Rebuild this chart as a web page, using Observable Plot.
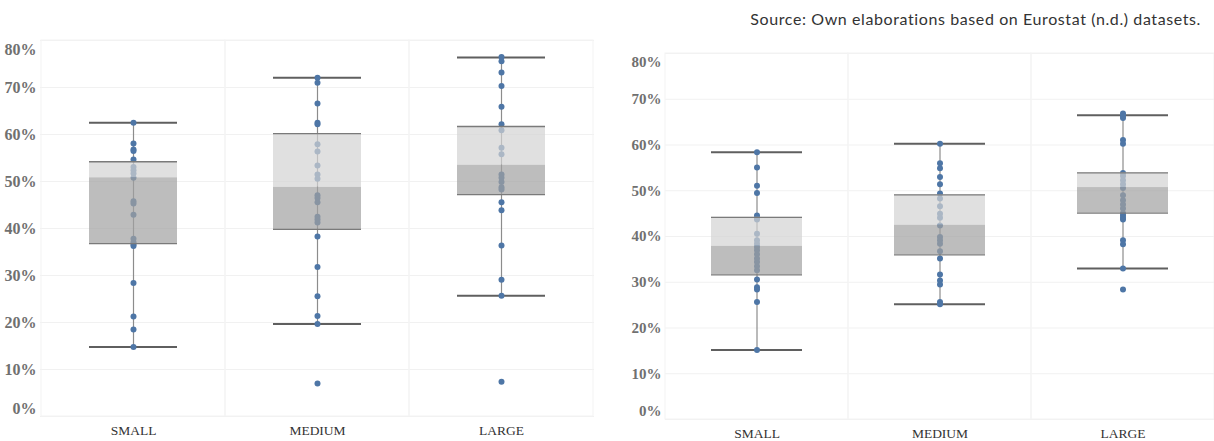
<!DOCTYPE html>
<html>
<head>
<meta charset="utf-8">
<script src="https://cdn.jsdelivr.net/npm/d3@7"></script>
<script src="https://cdn.jsdelivr.net/npm/@observablehq/plot@0.6"></script>
<style>
  html, body { margin: 0; padding: 0; background: #fff; }
  #wrap { position: relative; width: 1214px; height: 441px; overflow: hidden; background: #fff; }
  #source { position: absolute; top: 9px; right: 13px; z-index: 5; font-family: Lato, sans-serif; font-size: 16px; letter-spacing: 0.6px; line-height: 20px; color: #333; white-space: nowrap; }
  #left { position: absolute; left: 0; top: 0; z-index: 1; }
  #right { position: absolute; left: 600px; top: 0; z-index: 1; }
</style>
</head>
<body>
<div id="wrap">
  <div id="left"></div>
  <div id="right"></div>
  <div id="source">Source: Own elaborations based on Eurostat (n.d.) datasets.</div>
</div>
<script>
const categories = ["SMALL", "MEDIUM", "LARGE"];
const yTicks = [0, 10, 20, 30, 40, 50, 60, 70, 80];

// Left panel – observed values (%)
const leftSmall  = [62.5, 58.1, 56.8, 56.5, 54.7, 53.1, 52.4, 51.7, 50.8, 45.8, 45.3, 42.9, 37.8, 37.1, 36.6, 36.3, 28.4, 21.3, 18.5, 14.8];
const leftMedium = [72.1, 71.0, 66.6, 62.5, 62.2, 57.9, 56.4, 53.4, 51.5, 50.6, 47.1, 46.5, 45.6, 42.5, 41.9, 41.3, 38.3, 31.8, 25.6, 21.4, 19.7, 7.0];
const leftLarge  = [76.5, 75.6, 73.2, 70.3, 65.9, 62.2, 60.9, 57.2, 55.8, 51.5, 50.8, 49.9, 48.8, 48.3, 45.6, 43.9, 36.4, 29.1, 25.7, 7.4];
// Left panel – box statistics per category
const leftWhiskerLow  = [14.8, 19.7, 25.7];
const leftQ1          = [36.8, 39.8, 47.2];
const leftMedian      = [50.8, 48.8, 53.5];
const leftQ3          = [54.2, 60.2, 61.7];
const leftWhiskerHigh = [62.5, 72.1, 76.4];

// Right panel – observed values (%)
const rightSmall  = [58.4, 55.1, 51.1, 49.5, 44.6, 44.1, 43.7, 40.6, 39.2, 38.4, 37.7, 37.0, 36.1, 35.2, 34.4, 33.5, 32.6, 30.6, 28.9, 28.4, 25.7, 15.2];
const rightMedium = [60.3, 56.0, 54.9, 53.0, 51.4, 49.4, 48.3, 46.6, 45.0, 44.1, 42.4, 39.9, 39.2, 38.4, 36.8, 35.2, 31.7, 30.4, 29.5, 25.7, 25.2];
const rightLarge  = [66.9, 66.3, 65.9, 61.1, 60.3, 53.9, 53.2, 52.3, 51.4, 50.6, 49.0, 47.9, 47.0, 46.1, 45.1, 44.6, 44.1, 43.7, 39.2, 38.3, 33.0, 28.4];
// Right panel – box statistics per category
const rightWhiskerLow  = [15.2, 25.2, 33.0];
const rightQ1          = [31.6, 36.0, 45.1];
const rightMedian      = [37.9, 42.5, 50.7];
const rightQ3          = [44.2, 49.1, 53.9];
const rightWhiskerHigh = [58.4, 60.3, 66.5];

function makePanel({values, wLow, q1, med, q3, wHigh, width, height, marginLeft, marginRight, marginTop, marginBottom, inset, labelSize, topDy, botDy}) {
  const dots = categories.flatMap((c, i) => values[i].map(v => ({cat: c, v})));
  const stats = categories.map((c, i) => ({cat: c, wLow: wLow[i], q1: q1[i], med: med[i], q3: q3[i], wHigh: wHigh[i]}));
  const fmt = d => d + "%";
  const labelStyle = {fontFamily: "Liberation Serif, serif", fontWeight: "bold", fontSize: labelSize, fill: "#707070", tickSize: 0, tickPadding: 4, tickFormat: fmt};
  return Plot.plot({
    width, height, marginLeft, marginRight, marginTop, marginBottom,
    style: {fontFamily: "Liberation Serif, serif", background: "transparent"},
    x: {domain: categories, padding: 0, label: null},
    y: {domain: [0, 80], label: null},
    marks: [
      Plot.gridY(yTicks, {stroke: "#f1f1f1", strokeOpacity: 1}),
      Plot.barY(categories, {x: d => d, y1: 0, y2: 80, fill: "none", stroke: "#f3f3f3"}),
      Plot.ruleX(stats, {x: "cat", y1: "wLow", y2: "wHigh", stroke: "#8c8c8c", strokeWidth: 1.2}),
      Plot.tickY(stats, {x: "cat", y: "wLow", stroke: "#5f5f5f", strokeWidth: 2, insetLeft: inset, insetRight: inset}),
      Plot.tickY(stats, {x: "cat", y: "wHigh", stroke: "#5f5f5f", strokeWidth: 2, insetLeft: inset, insetRight: inset}),
      Plot.dot(dots, {x: "cat", y: "v", r: 3, fill: "#4e76a6", stroke: "none"}),
      Plot.barY(stats, {x: "cat", y1: "q1", y2: "med", fill: "#a1a1a1", fillOpacity: 0.7, insetLeft: inset, insetRight: inset}),
      Plot.barY(stats, {x: "cat", y1: "med", y2: "q3", fill: "#d3d3d3", fillOpacity: 0.7, insetLeft: inset, insetRight: inset}),
      Plot.tickY(stats, {x: "cat", y: "q1", stroke: "#7a7a7a", strokeWidth: 1.3, insetLeft: inset, insetRight: inset}),
      Plot.tickY(stats, {x: "cat", y: "q3", stroke: "#7a7a7a", strokeWidth: 1.3, insetLeft: inset, insetRight: inset}),
      Plot.axisY({...labelStyle, ticks: yTicks.slice(1, -1)}),
      Plot.axisY({...labelStyle, ticks: [80], dy: topDy}),
      Plot.axisY({...labelStyle, ticks: [0], dy: botDy}),
      Plot.axisX({tickSize: 0, tickPadding: 9, fontSize: 13.5, fill: "#333", fontFamily: "Liberation Serif, serif", label: null})
    ]
  });
}

document.getElementById("left").append(makePanel({
  values: [leftSmall, leftMedium, leftLarge],
  wLow: leftWhiskerLow, q1: leftQ1, med: leftMedian, q3: leftQ3, wHigh: leftWhiskerHigh,
  width: 600, height: 441, marginLeft: 40, marginRight: 6, marginTop: 40, marginBottom: 25,
  inset: 48, labelSize: 16, topDy: 9, botDy: -8
}));

document.getElementById("right").append(makePanel({
  values: [rightSmall, rightMedium, rightLarge],
  wLow: rightWhiskerLow, q1: rightQ1, med: rightMedian, q3: rightQ3, wHigh: rightWhiskerHigh,
  width: 614, height: 441, marginLeft: 65, marginRight: 0, marginTop: 53, marginBottom: 22,
  inset: 46, labelSize: 15, topDy: 9, botDy: -8
}));
</script>
</body>
</html>
